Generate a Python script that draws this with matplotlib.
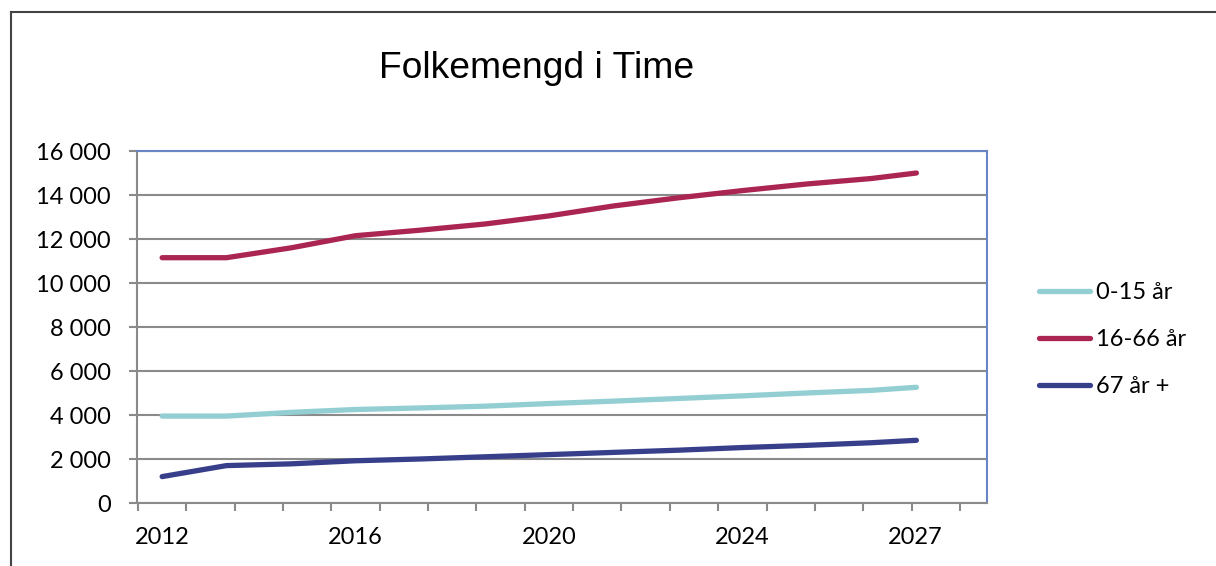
import matplotlib.pyplot as plt
from matplotlib.lines import Line2D
from matplotlib.ticker import FuncFormatter
import numpy as np

# data points sit at these positions along the category axis (1 unit = 1 tick step)
x_pos = [2012, 2013.33, 2014.67, 2016, 2017.33, 2018.67, 2020,
         2021.33, 2022.67, 2024, 2025.33, 2026.67, 2027.6]
barn = [3950, 3950, 4120, 4250, 4320, 4400, 4520, 4630, 4750, 4870, 5000, 5120, 5260]
vaksne = [11150, 11150, 11600, 12150, 12400, 12680, 13050, 13500, 13870, 14200, 14500, 14750, 15000]
eldre = [1200, 1700, 1780, 1920, 2000, 2100, 2200, 2300, 2400, 2520, 2620, 2740, 2850]

series_names = ["0-15 år", "16-66 år", "67 år +"]
colors = ["#93CED2", "#AB2552", "#383F8A"]

label_pos = [2012, 2016, 2020, 2024, 2027.57]
label_text = ["2012", "2016", "2020", "2024", "2027"]

W, H = 1216, 566
fig = plt.figure(figsize=(W / 100, H / 100), dpi=100)
ax = fig.add_axes([137 / W, 1 - 503 / H, (987 - 137) / W, (503 - 151) / H])

for vals, name, c in zip([barn, vaksne, eldre], series_names, colors):
    ax.plot(x_pos, vals, color=c, lw=3.8, solid_capstyle="round",
            solid_joinstyle="round", label=name, zorder=3)

ax.set_xlim(2011.48, 2029.06)
ax.set_ylim(0, 16000)
ax.set_yticks(np.arange(0, 16001, 2000))
ax.yaxis.set_major_formatter(FuncFormatter(lambda v, p: f"{int(v):,}".replace(",", " ")))
ax.grid(axis="y", color="#8a8a8a", lw=1.5, zorder=1)

ax.set_xticks(label_pos)
ax.set_xticklabels(label_text)
ax.set_xticks(np.arange(2011.5, 2029, 1), minor=True)
ax.tick_params(axis="x", which="major", length=0, pad=17)
ax.tick_params(axis="x", which="minor", length=6, width=1.5, color="#8a8a8a")
ax.tick_params(axis="y", length=6, width=1.5, color="#8a8a8a", pad=13)

for lab in ax.get_xticklabels() + ax.get_yticklabels():
    lab.set_fontfamily("Lato")
    lab.set_fontsize(17)

for s in ["left", "bottom"]:
    ax.spines[s].set_color("#8a8a8a")
    ax.spines[s].set_linewidth(1.5)
for s in ["top", "right"]:
    ax.spines[s].set_color("#6a84c4")
    ax.spines[s].set_linewidth(1.5)

fig.text(537 / W, 1 - 68 / H, "Folkemengd i Time", ha="center", va="center",
         fontsize=26.8, family="Liberation Sans")

handles = [Line2D([], [], color=c, lw=3.8, solid_capstyle="round") for c in colors]
leg = fig.legend(handles, series_names, loc="upper left",
                 bbox_to_anchor=(1018 / W, 1 - 261 / H), frameon=False,
                 handlelength=2.15, handletextpad=0.25, labelspacing=1.1,
                 prop={"family": "Lato", "size": 17})

# outer chart frame
fig.add_artist(Line2D([11 / W, 1], [1 - 12 / H, 1 - 12 / H], color="#444444", lw=1.5))
fig.add_artist(Line2D([11 / W, 11 / W], [0, 1 - 12 / H], color="#444444", lw=1.5))

fig.savefig("out.png", dpi=100, facecolor="white")
